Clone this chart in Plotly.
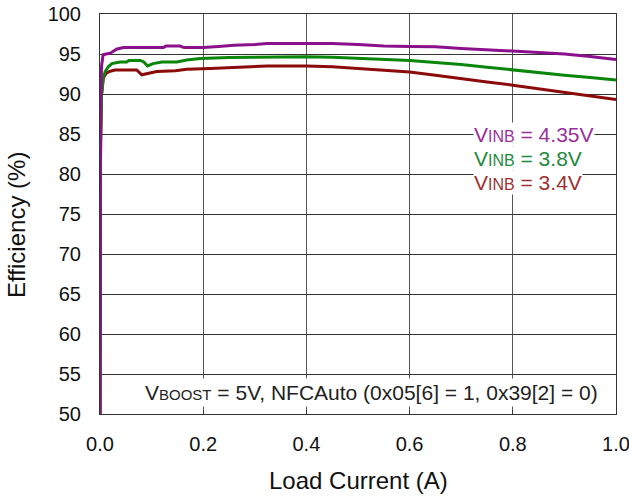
import plotly.graph_objects as go

# ---- data ----
x_435 = [0, 0.001, 0.003, 0.006, 0.012, 0.02, 0.032, 0.045, 0.06, 0.1, 0.123, 0.128, 0.155, 0.163,
         0.2, 0.23, 0.26, 0.3, 0.324, 0.4, 0.45, 0.5, 0.55, 0.6, 0.65, 0.7, 0.75, 0.8, 0.85, 0.9, 0.95, 1.0]
y_435 = [50, 88, 93.5, 94.9, 95.0, 95.1, 95.6, 95.8, 95.8, 95.8, 95.8, 96.0, 96.0, 95.8,
         95.8, 95.95, 96.1, 96.2, 96.3, 96.3, 96.3, 96.2, 96.0, 95.95, 95.9, 95.7, 95.55, 95.4, 95.2, 95.0, 94.7, 94.3]

x_38 = [0, 0.001, 0.003, 0.006, 0.01, 0.016, 0.023, 0.039, 0.052, 0.056, 0.078, 0.085, 0.092, 0.103,
        0.12, 0.149, 0.168, 0.194, 0.25, 0.3, 0.35, 0.4, 0.45, 0.5, 0.55, 0.6, 0.65, 0.7, 0.75, 0.8,
        0.85, 0.9, 0.95, 1.0]
y_38 = [50, 84, 89.9, 92.0, 92.8, 93.4, 93.8, 94.0, 94.0, 94.2, 94.2, 94.0, 93.5, 93.8,
        94.0, 94.0, 94.25, 94.45, 94.55, 94.62, 94.67, 94.67, 94.6, 94.45, 94.3, 94.2, 93.95, 93.7, 93.35, 93.0,
        92.7, 92.35, 92.05, 91.75]

x_34 = [0, 0.001, 0.003, 0.0065, 0.012, 0.02, 0.029, 0.071, 0.081, 0.094, 0.11, 0.146, 0.168, 0.214,
        0.25, 0.3, 0.324, 0.4, 0.45, 0.5, 0.55, 0.6, 0.65, 0.7, 0.75, 0.8, 0.85, 0.9, 0.95, 1.0]
y_34 = [50, 82, 89.9, 92.0, 92.6, 92.85, 93.0, 93.0, 92.4, 92.6, 92.8, 92.9, 93.1, 93.2,
        93.3, 93.45, 93.5, 93.5, 93.4, 93.2, 93.0, 92.75, 92.35, 91.9, 91.5, 91.1, 90.65, 90.2, 89.75, 89.3]

x_ticks = [0.0, 0.2, 0.4, 0.6, 0.8, 1.0]
x_ticklabels = ["0.0", "0.2", "0.4", "0.6", "0.8", "1.0"]
y_ticks = [50, 55, 60, 65, 70, 75, 80, 85, 90, 95, 100]

legend_labels = ["V<span style='font-size:16px'>INB</span> = 4.35V",
                 "V<span style='font-size:16px'>INB</span> = 3.8V",
                 "V<span style='font-size:16px'>INB</span> = 3.4V"]
line_colors = ["#8B108B", "#0A860A", "#8B0A0A"]
text_colors = ["#9B309B", "#1E8A3C", "#A03030"]

FONT = "Liberation Sans, Arial, sans-serif"

fig = go.Figure()
for xs, ys, c in [(x_34, y_34, line_colors[2]), (x_38, y_38, line_colors[1]), (x_435, y_435, line_colors[0])]:
    fig.add_trace(go.Scatter(x=xs, y=ys, mode="lines", line=dict(color=c, width=3), showlegend=False))

fig.update_layout(
    width=629, height=498,
    margin=dict(l=100, r=13, t=14, b=84),
    paper_bgcolor="white", plot_bgcolor="white",
    font=dict(family=FONT, color="#111111"),
    xaxis=dict(range=[0, 1], tickvals=x_ticks, ticktext=x_ticklabels, automargin=False,
               showgrid=True, gridcolor="#555555", gridwidth=1,
               showline=True, linecolor="#333333", linewidth=1, mirror=True,
               ticks="inside", ticklen=4, tickcolor="#333333", ticklabelstandoff=12,
               ticklabeloverflow="allow",
               tickfont=dict(size=20, family=FONT, color="#111111"), zeroline=False),
    yaxis=dict(range=[50, 100], tickvals=y_ticks, automargin=False,
               showgrid=True, gridcolor="#333333", gridwidth=1,
               showline=True, linecolor="#333333", linewidth=1, mirror=True,
               ticks="", ticklabelstandoff=14, ticklabeloverflow="allow",
               tickfont=dict(size=20, family=FONT, color="#111111"), zeroline=False),
)

ys_leg = [0.7, 0.638, 0.578]
for lab, col, yy in zip(legend_labels, text_colors, ys_leg):
    fig.add_annotation(text=lab, xref="paper", yref="paper", x=0.723, y=yy,
                       xanchor="left", yanchor="middle", showarrow=False,
                       font=dict(size=21, color=col, family=FONT), bgcolor="white", borderpad=0)

fig.add_annotation(text="V<span style='font-size:15px'>BOOST</span> = 5V, NFCAuto (0x05[6] = 1, 0x39[2] = 0)",
                   xref="paper", yref="paper", x=0.527, y=0.055, xanchor="center", yanchor="middle",
                   showarrow=False, font=dict(size=21, color="#222222", family=FONT),
                   bgcolor="white", borderpad=2)

fig.add_annotation(text="Efficiency (%)", xref="paper", yref="paper", x=-0.163, y=0.4725,
                   xanchor="center", yanchor="middle", textangle=-90, showarrow=False,
                   font=dict(size=24, color="#111111", family=FONT))
fig.add_annotation(text="Load Current (A)", xref="paper", yref="paper", x=0.5, y=-0.165,
                   xanchor="center", yanchor="middle", showarrow=False,
                   font=dict(size=24, color="#111111", family=FONT))

fig.write_html("out.html")
